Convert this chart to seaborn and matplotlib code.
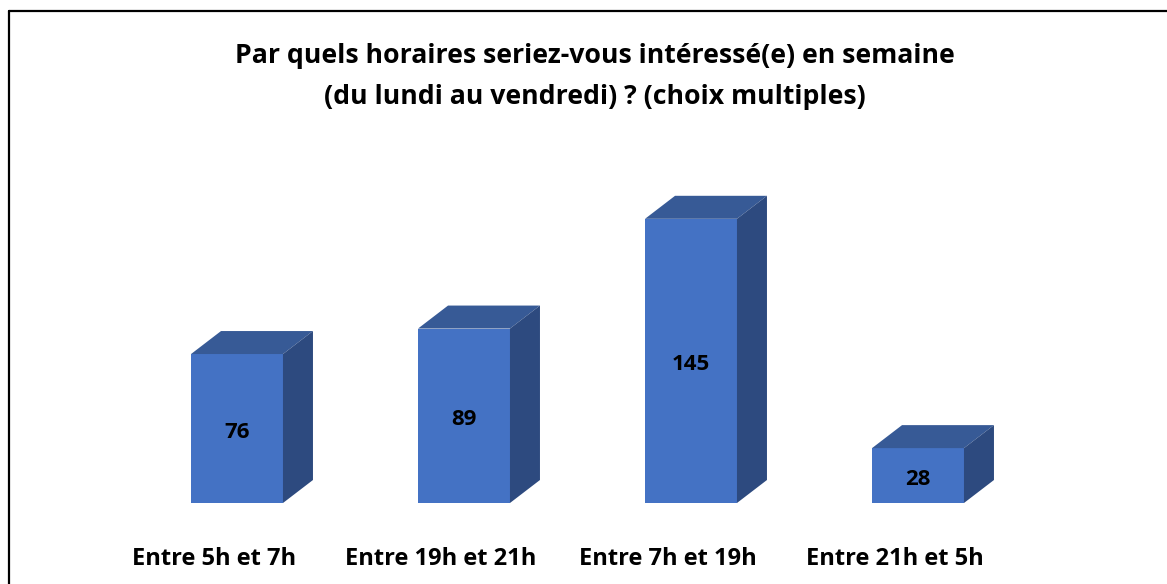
import matplotlib
matplotlib.use('Agg')
import matplotlib.pyplot as plt
import seaborn as sns
from matplotlib.patches import Polygon
from matplotlib.lines import Line2D
from matplotlib.transforms import ScaledTranslation

# data
categories = ['Entre 5h et 7h', 'Entre 19h et 21h', 'Entre 7h et 19h', 'Entre 21h et 5h']
values = [76, 89, 145, 28]
title = "Par quels horaires seriez-vous intéressé(e) en semaine\n(du lundi au vendredi) ? (choix multiples)"

FRONT = '#4472C4'
TOP = '#375A96'
SIDE = '#2D4A7F'

sns.set_theme(style='white')
plt.rcParams['font.family'] = ['Open Sans', 'DejaVu Sans']

fig = plt.figure(figsize=(11.67, 5.84), dpi=100)
# axes placed so that bar baseline sits at ~503px, 227px between categories
ax = fig.add_axes([100 / 1167, (584 - 503) / 584, 1000 / 1167, 353 / 584])

sns.barplot(x=categories, y=values, width=0.405, color=FRONT, saturation=1,
            linewidth=0, ax=ax)

ax.set_xlim((100 - 237) / 227, (1100 - 237) / 227)
ax.set_ylim(0, 353 / 1.96)

# fake 3D: depth offset in data units
dx = 30 / 227
dy = 23 / 1.96
down = ScaledTranslation(0, -4 / 100, fig.dpi_scale_trans)
for p, v in zip(ax.patches, values):
    x0 = p.get_x()
    x1 = x0 + p.get_width()
    h = p.get_height()
    top = Polygon([(x0, h), (x1, h), (x1 + dx, h + dy), (x0 + dx, h + dy)],
                  closed=True, facecolor=TOP, edgecolor='none', clip_on=False)
    side = Polygon([(x1, 0), (x1 + dx, dy), (x1 + dx, h + dy), (x1, h)],
                   closed=True, facecolor=SIDE, edgecolor='none', clip_on=False)
    ax.add_patch(top)
    ax.add_patch(side)
    ax.text(x0 + p.get_width() / 2, h / 2, str(v), ha='center', va='center',
            fontsize=16, fontweight='bold', color='black',
            transform=ax.transData + down)

for s in ax.spines.values():
    s.set_visible(False)
ax.set_yticks([])
ax.set_ylabel('')
ax.set_xlabel('')
ax.tick_params(axis='x', length=0, pad=32, labelsize=17)
for lab in ax.get_xticklabels():
    lab.set_fontweight('bold')
    lab.set_color('black')
    lab.set_transform(lab.get_transform() + ScaledTranslation(-23 / 100, 0, fig.dpi_scale_trans))

fig.text(595 / 1167, 1 - 76.5 / 584, title, ha='center', va='center',
         fontsize=19.2, fontweight='bold', color='black', linespacing=1.72)

# chart border (only top and left edges visible in the crop)
fig.add_artist(Line2D([9 / 1167, 9 / 1167], [0, 1 - 11 / 584], color='black', lw=1.6))
fig.add_artist(Line2D([9 / 1167, 1], [1 - 11 / 584, 1 - 11 / 584], color='black', lw=1.6))

fig.savefig('out.png', dpi=100)
